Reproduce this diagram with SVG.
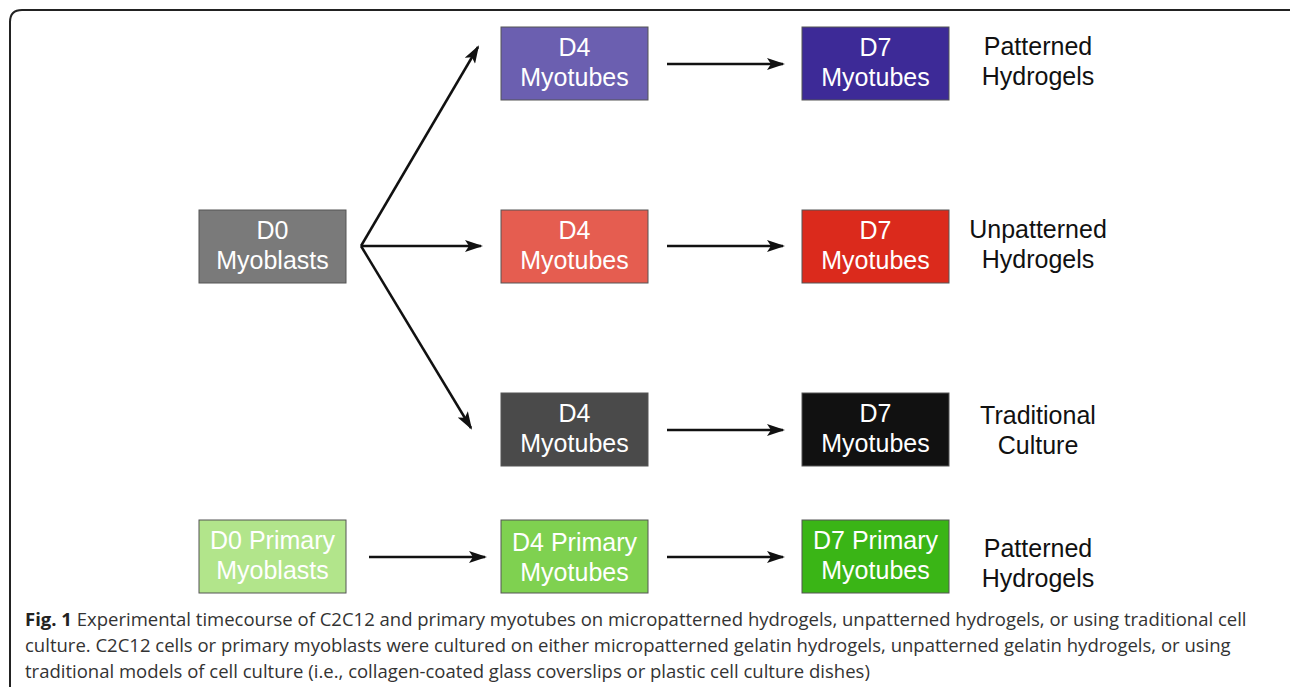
<svg xmlns="http://www.w3.org/2000/svg" width="1290" height="687" viewBox="0 0 1290 687">
<style>
.box{stroke:#555;stroke-width:1}
.nt{font-family:"Liberation Sans",Arial,sans-serif;font-size:25px;fill:#fff;text-anchor:middle}
.lb{font-family:"Liberation Sans",Arial,sans-serif;font-size:25px;fill:#111;text-anchor:middle}
.cap{font-family:"Open Sans",sans-serif;font-size:18.5px;fill:#333}
.conn line{stroke:#111;stroke-width:2.5;marker-end:url(#ah)}
</style>
<defs>
<marker id="ah" viewBox="0 0 18 12" refX="16" refY="6" markerWidth="18" markerHeight="12" markerUnits="userSpaceOnUse" orient="auto">
<path d="M0,0 L18,6 L0,12 L4,6 Z" fill="#111"/>
</marker>
</defs>
<rect width="1290" height="687" fill="#fff"/>
<path d="M10,700 L10,22 Q10,10 22,10 L1300,10" fill="none" stroke="#222" stroke-width="2"/>
<g id="n-d0"><rect class="box" x="199" y="210" width="147" height="73" fill="#7a7a7a"/><text class="nt" x="272.5" y="239">D0</text><text class="nt" x="272.5" y="269">Myoblasts</text></g>
<g id="n-d4p"><rect class="box" x="501" y="27" width="147" height="73" fill="#6b5fb0"/><text class="nt" x="574.5" y="56">D4</text><text class="nt" x="574.5" y="86">Myotubes</text></g>
<g id="n-d7p"><rect class="box" x="802" y="27" width="147" height="73" fill="#3d2a97"/><text class="nt" x="875.5" y="56">D7</text><text class="nt" x="875.5" y="86">Myotubes</text></g>
<g id="n-d4u"><rect class="box" x="501" y="210" width="147" height="73" fill="#e55d50"/><text class="nt" x="574.5" y="239">D4</text><text class="nt" x="574.5" y="269">Myotubes</text></g>
<g id="n-d7u"><rect class="box" x="802" y="210" width="147" height="73" fill="#db2a1c"/><text class="nt" x="875.5" y="239">D7</text><text class="nt" x="875.5" y="269">Myotubes</text></g>
<g id="n-d4t"><rect class="box" x="501" y="393" width="147" height="73" fill="#4a4a4a"/><text class="nt" x="574.5" y="422">D4</text><text class="nt" x="574.5" y="452">Myotubes</text></g>
<g id="n-d7t"><rect class="box" x="802" y="393" width="147" height="73" fill="#111111"/><text class="nt" x="875.5" y="422">D7</text><text class="nt" x="875.5" y="452">Myotubes</text></g>
<g id="n-d0pr"><rect class="box" x="199" y="520" width="147" height="73" fill="#b2e58b"/><text class="nt" x="272.5" y="549">D0 Primary</text><text class="nt" x="272.5" y="579">Myoblasts</text></g>
<g id="n-d4pr"><rect class="box" x="501" y="520" width="147" height="73" fill="#7fd150"/><text class="nt" x="574.5" y="551">D4 Primary</text><text class="nt" x="574.5" y="581">Myotubes</text></g>
<g id="n-d7pr"><rect class="box" x="802" y="520" width="147" height="73" fill="#3ab516"/><text class="nt" x="875.5" y="549">D7 Primary</text><text class="nt" x="875.5" y="579">Myotubes</text></g>
<g id="labels">
<text class="lb" x="1038" y="55">Patterned</text><text class="lb" x="1038" y="85">Hydrogels</text>
<text class="lb" x="1038" y="238">Unpatterned</text><text class="lb" x="1038" y="268">Hydrogels</text>
<text class="lb" x="1038" y="424">Traditional</text><text class="lb" x="1038" y="454">Culture</text>
<text class="lb" x="1038" y="557">Patterned</text><text class="lb" x="1038" y="587">Hydrogels</text>
</g>
<g id="connectors" class="conn">
<line x1="361" y1="246" x2="478" y2="47"/>
<line x1="361" y1="246" x2="481" y2="246"/>
<line x1="361" y1="246" x2="471" y2="428"/>
<line x1="667" y1="64" x2="783" y2="64"/>
<line x1="667" y1="246" x2="783" y2="246"/>
<line x1="667" y1="430" x2="783" y2="430"/>
<line x1="369" y1="557" x2="485" y2="557"/>
<line x1="667" y1="557" x2="783" y2="557"/>
</g>
<g id="caption" class="cap">
<text x="25" y="626"><tspan font-weight="bold" fill="#222">Fig. 1</tspan> Experimental timecourse of C2C12 and primary myotubes on micropatterned hydrogels, unpatterned hydrogels, or using traditional cell</text>
<text x="25" y="652">culture. C2C12 cells or primary myoblasts were cultured on either micropatterned gelatin hydrogels, unpatterned gelatin hydrogels, or using</text>
<text x="25" y="678">traditional models of cell culture (i.e., collagen-coated glass coverslips or plastic cell culture dishes)</text>
</g>
</svg>
